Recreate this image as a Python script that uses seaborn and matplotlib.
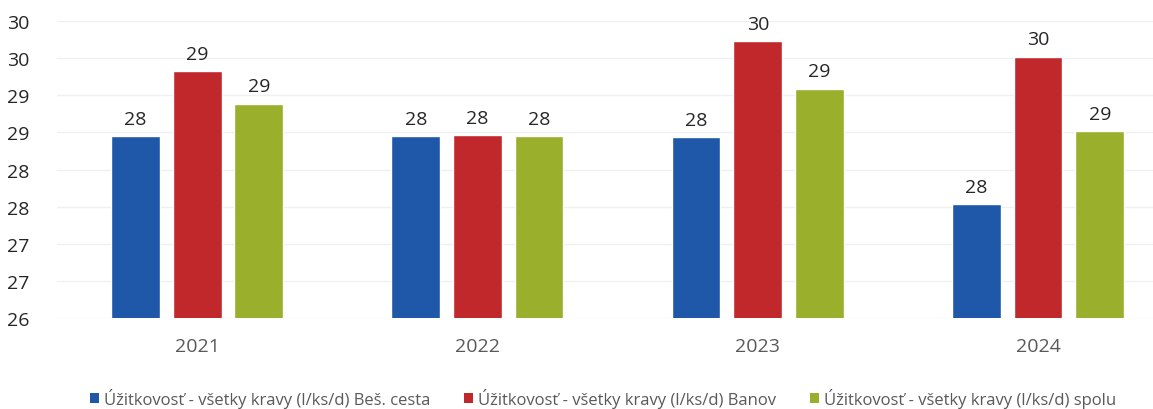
import numpy as np
import pandas as pd
import seaborn as sns
import matplotlib.pyplot as plt
from matplotlib.patches import Patch

# data
years = ["2021", "2022", "2023", "2024"]
series = ["Úžitkovosť - všetky kravy (l/ks/d) Beš. cesta",
          "Úžitkovosť - všetky kravy (l/ks/d) Banov",
          "Úžitkovosť - všetky kravy (l/ks/d) spolu"]
bes_cesta = [28.45, 28.45, 28.44, 27.53]
banov = [29.33, 28.46, 29.73, 29.52]
spolu = [28.89, 28.45, 29.09, 28.52]
colors = ["#1F58A8", "#C0282C", "#9AAF2B"]

df = pd.DataFrame({
    "year": years * 3,
    "series": [series[0]] * 4 + [series[1]] * 4 + [series[2]] * 4,
    "value": bes_cesta + banov + spolu,
})

sns.set_theme(style="white")
plt.rcParams['font.family'] = ['Open Sans', 'DejaVu Sans']

fig = plt.figure(figsize=(11.53, 4.10), dpi=100)
ax = fig.add_axes([57 / 1153, 0.222, 1 - 57 / 1153, 0.724])

sns.barplot(data=df, x="year", y="value", hue="series", palette=colors,
            width=0.66, gap=0.21, ax=ax, legend=False, saturation=1)

ax.set_ylim(26, 30)
ax.set_xlim(-0.5, 3.41)

# y ticks every 0.5 with excel-like rounding
yt = np.arange(26, 30.01, 0.5)
ax.set_yticks(yt)
ax.set_yticklabels([str(int(np.floor(v + 0.5))) for v in yt], fontsize=14, color="#262626")
ax.tick_params(axis="y", length=0, pad=20)
ax.tick_params(axis="x", length=0, pad=14, labelsize=14, labelcolor="#595959")
ax.yaxis.grid(True, color="#F0F0F0", linewidth=1)
ax.set_axisbelow(True)
for s in ax.spines.values():
    s.set_visible(False)
ax.set_xlabel("")
ax.set_ylabel("")

# value labels
for cont in ax.containers:
    labs = [str(int(np.floor(b.get_height() + 0.5))) for b in cont]
    ax.bar_label(cont, labels=labs, padding=6, fontsize=14, color="#262626")

handles = [Patch(facecolor=c, edgecolor="none") for c in colors]
fig.legend(handles, series, loc="lower center", bbox_to_anchor=(0.523, -0.035), ncol=3,
           frameon=False, fontsize=12, handlelength=0.55, handleheight=0.55,
           handletextpad=0.3, columnspacing=2.0, labelcolor="#595959")

fig.savefig("out.png", dpi=100)
